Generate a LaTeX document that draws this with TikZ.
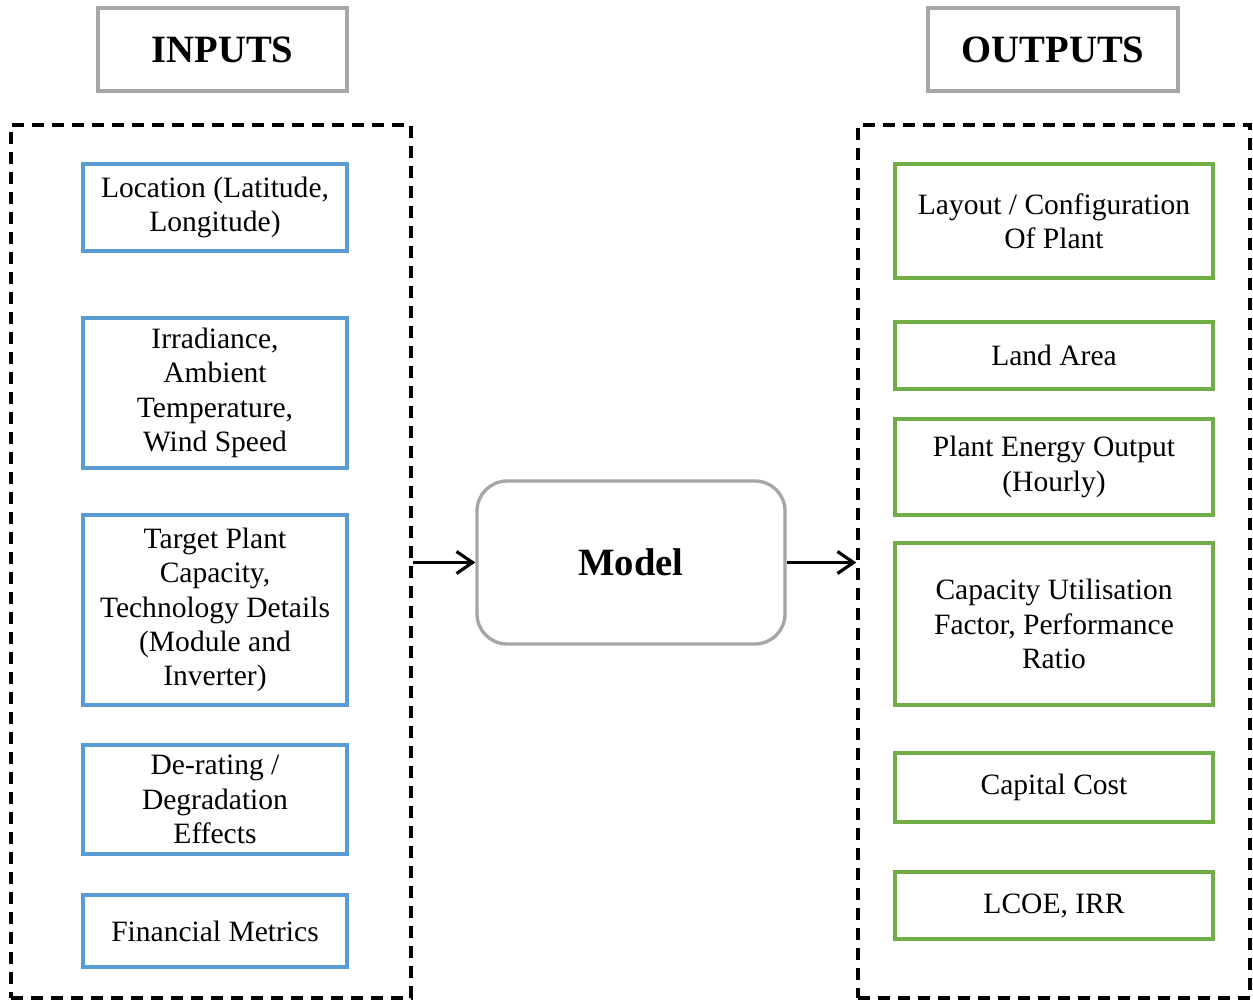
\documentclass[tikz,border=0pt]{standalone}
\usepackage{fontspec}
\setmainfont{Liberation Serif}
\usepackage{tikz}
\definecolor{InBlue}{HTML}{5B9BD5}
\definecolor{OutGreen}{HTML}{70AD47}
\definecolor{HeadGray}{HTML}{A6A6A6}
\usetikzlibrary{arrows.meta,positioning}
\newcommand{\boxfont}[0]{\fontsize{16.8}{19.6}\selectfont}
\newcommand{\headfont}[0]{\fontsize{22}{24}\selectfont\bfseries}

\begin{document}
\begin{tikzpicture}[->,>={Straight Barb[length=3.2mm,width=4.4mm]},
    frame/.style={draw=black, line width=2pt, dash pattern=on 2.4mm off 1.6mm, inner sep=0pt},
    heading/.style={draw=HeadGray, line width=1.9pt, inner sep=0pt, font=\headfont},
    inbox/.style={draw=InBlue, line width=1.9pt, inner sep=0pt, minimum width=5.28cm, align=center, font=\boxfont},
    outbox/.style={draw=OutGreen, line width=1.9pt, inner sep=0pt, minimum width=6.36cm, align=center, font=\boxfont}]
\useasboundingbox (0,0) rectangle (25.06,20);

% headings
\node[heading, minimum width=4.98cm, minimum height=1.66cm] (inputs) at (4.45,19.01){INPUTS};
\node[heading, minimum width=5.0cm, minimum height=1.66cm] (outputs) at (21.06,19.01){OUTPUTS};

% dashed frames round the two stacks
\node[frame, minimum width=8cm, minimum height=17.46cm] (inframe) at (4.22,8.77){};
\node[frame, minimum width=7.84cm, minimum height=17.46cm] (outframe) at (21.08,8.77){};

%draw the input stack
\foreach \y/\h/\txt[count=\c] in {15.85/1.74/{Location (Latitude,\\ Longitude)},
    12.14/3.0/{Irradiance,\\ Ambient\\ Temperature,\\ Wind Speed},
    7.80/3.8/{Target Plant\\ Capacity,\\ Technology Details\\ (Module and\\ Inverter)},
    4.01/2.18/{De-rating /\\ Degradation\\ Effects},
    1.38/1.44/{Financial Metrics}}{
    \node[inbox, minimum height=\h cm] (in\c) at (4.3,\y){\txt};
}

%draw the output stack
\foreach \y/\h/\txt[count=\c] in {15.58/2.28/{Layout / Configuration\\ Of Plant},
    12.89/1.34/{Land Area},
    10.66/1.92/{Plant Energy Output\\ (Hourly)},
    7.52/3.24/{Capacity Utilisation\\ Factor, Performance\\ Ratio},
    4.25/1.38/{Capital Cost},
    1.89/1.34/{LCOE, IRR}}{
    \node[outbox, minimum height=\h cm] (out\c) at (21.08,\y){\txt};
}

% the model
\node[draw=HeadGray, line width=1.9pt, rounded corners=0.6cm, minimum width=6.16cm, minimum height=3.26cm, font=\headfont] (model) at (12.62,8.75){Model};

% draw the flow
\draw[line width=1.8pt] (model.west -| inframe.east) -- (model.west);
\draw[line width=1.8pt] (model.east) -- (model.east -| outframe.west);
\end{tikzpicture}
\end{document}
